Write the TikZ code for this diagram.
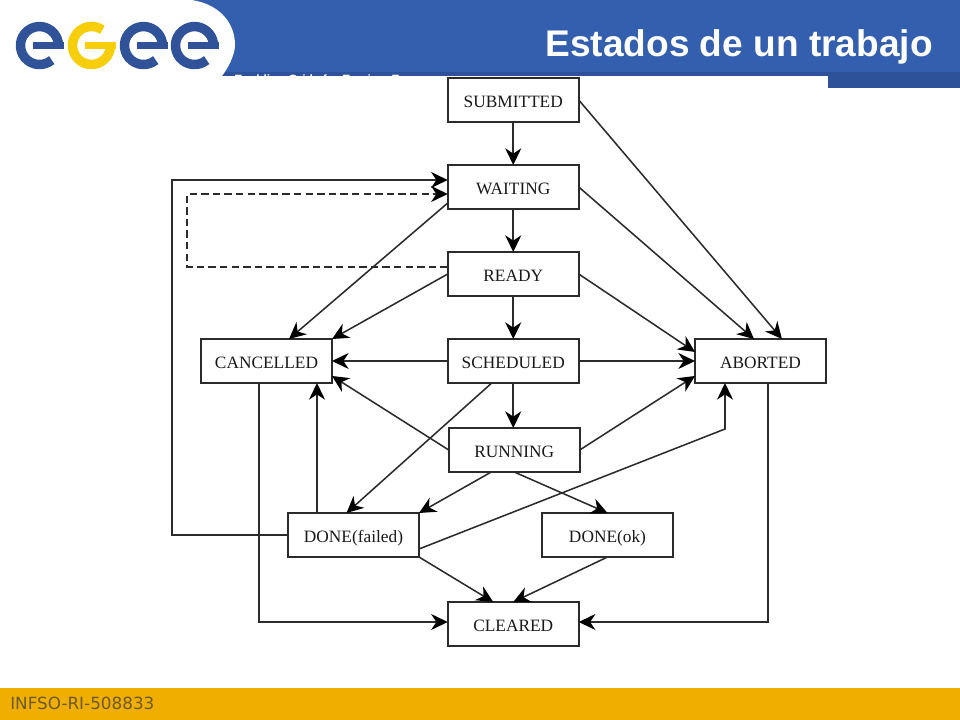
\documentclass[tikz,border=0pt]{standalone}
\usepackage{fontspec}
\setmainfont{Liberation Serif}
\newfontfamily\headfont{Liberation Sans}
\newfontfamily\footfont{DejaVu Sans}
\usetikzlibrary{arrows.meta}
\definecolor{bandblue}{HTML}{335FAE}
\definecolor{banddark}{HTML}{2E5299}
\definecolor{footgold}{HTML}{F0AE00}
\definecolor{foottext}{HTML}{6E5A28}
\definecolor{logoblue}{HTML}{2F5299}
\definecolor{logoyellow}{HTML}{F7CE0A}
\definecolor{inkgray}{HTML}{2B2B2B}
\tikzset{
  statebox/.style={draw=inkgray,line width=1.15pt,fill=white,rectangle,inner sep=0pt,outer sep=0pt,
    minimum width=98.25pt,minimum height=33pt,text=black!90,text height=11pt,text depth=0pt,font=\fontsize{13}{15}\selectfont},
  flow/.style={draw=inkgray,line width=1.15pt,-{Stealth[length=12.5pt,width=12pt,inset=4pt,black]}},
  dashflow/.style={flow,line width=0.9pt,dash pattern=on 5.5pt off 3.2pt},
  logostroke/.style={line width=7.1pt,line cap=butt},
}
\begin{document}
\begin{tikzpicture}[x=0.75pt,y=-0.75pt]
\useasboundingbox (0,0) rectangle (960,720);
\fill[white] (0,0) rectangle (960,720);
% header band
\fill[bandblue] (0,0) rectangle (960,72);
\fill[banddark] (0,72) rectangle (960,76);
\fill[banddark] (828,72) rectangle (960,88);
\begin{scope}
  \clip (234,60) rectangle (420,76.5);
  \node[anchor=base west,inner sep=0pt,text=white,font=\headfont\bfseries\fontsize{9}{11}\selectfont] (strap) at (234,83.5) {Enabling Grids for E-sciencE};
\end{scope}
\fill[white] (0,0) -- (192,0) .. controls (222,5) and (235,25) .. (235,45) .. controls (235,55) and (228,68) .. (222,76) -- (0,76) -- cycle;
% logo
\draw[logoblue,logostroke] (51.7,60.1) arc[start angle=-50,end angle=-360,radius=14.25pt];
\fill[logoblue] (33,42) rectangle (63.5,49);
\draw[logoyellow,logostroke] (102.4,29.9) arc[start angle=55,end angle=360,radius=14.25pt];
\fill[logoyellow] (85,42) rectangle (115.5,49);
\draw[logoblue,logostroke] (155.7,60.1) arc[start angle=-50,end angle=-360,radius=14.25pt];
\fill[logoblue] (137,42) rectangle (167.5,49);
\draw[logoblue,logostroke] (206.7,60.1) arc[start angle=-50,end angle=-360,radius=14.25pt];
\fill[logoblue] (188,42) rectangle (218.5,49);
\node[anchor=base east,inner sep=0pt,text=white,font=\headfont\bfseries\fontsize{27.8}{32}\selectfont] (title) at (933,57) {Estados de un trabajo};
% footer
\fill[footgold] (0,688) rectangle (960,720);
\node[anchor=base west,inner sep=0pt,text=foottext,font=\footfont\fontsize{12.6}{15}\selectfont] (footer) at (10,709) {INFSO-RI-508833};
% states
\node[statebox] (sub) at (513.25,100) {SUBMITTED};
\node[statebox] (wait) at (513.25,187) {WAITING};
\node[statebox] (ready) at (513.25,274) {READY};
\node[statebox] (sched) at (513.25,361) {SCHEDULED};
\node[statebox] (run) at (514.25,450) {RUNNING};
\node[statebox] (canc) at (266.5,361) {CANCELLED};
\node[statebox] (abor) at (760.5,361) {ABORTED};
\node[statebox] (dfail) at (353.5,535) {DONE(failed)};
\node[statebox] (dok) at (607.5,535) {DONE(ok)};
\node[statebox] (clr) at (513.25,624) {CLEARED};
\coordinate (bendA) at (725,429);
\coordinate (loopW) at (172,535);
\coordinate (loopN) at (172,180);
\coordinate (dashS) at (187,267);
\coordinate (dashN) at (187,194);
% connectors
\draw[flow] (sub.south) -- (wait.north);
\draw[flow] (wait.south) -- (ready.north);
\draw[flow] (ready.south) -- (sched.north);
\draw[flow] (sched.south) -- ([shift={(-1,0)}]run.north);
\draw[flow] (sub.east) -- ([shift={(21.5,0)}]abor.north);
\draw[flow] (wait.east) -- ([shift={(-6.5,0)}]abor.north);
\draw[flow] (ready.east) -- ([shift={(0,-9)}]abor.west);
\draw[flow] (sched.east) -- (abor.west);
\draw[flow] (run.east) -- ([shift={(0,15)}]abor.west);
\draw[flow] ([shift={(0,14)}]dfail.east) -- (bendA) -- (bendA |- abor.south);
\draw[flow] ([shift={(0,16)}]wait.west) -- ([shift={(22.5,0)}]canc.north);
\draw[flow] (ready.west) -- (canc.north east);
\draw[flow] (sched.west) -- (canc.east);
\draw[flow] (run.west) -- ([shift={(0,15)}]canc.east);
\draw[flow] ([shift={(-21.5,0)}]sched.south) -- ([shift={(-7,0)}]dfail.north);
\draw[flow] ([shift={(-23,0)}]run.south) -- (dfail.north east);
\draw[flow] (run.south) -- (dok.north);
\draw[flow] ([shift={(-36.5,0)}]dfail.north) -- ([shift={(50.5,0)}]canc.south);
\draw[flow] (dfail.west) -- (loopW) -- (loopN) -- ([shift={(0,-7)}]wait.west);
\draw[dashflow] ([shift={(0,-7)}]ready.west) -- (dashS) -- (dashN) -- ([shift={(0,7)}]wait.west);
\draw[flow] ([shift={(-7.5,0)}]canc.south) |- ([shift={(0,-2)}]clr.west);
\draw[flow] ([shift={(7.5,0)}]abor.south) |- ([shift={(0,-2)}]clr.east);
\draw[flow] (dfail.south east) -- ([shift={(-20,0)}]clr.north);
\draw[flow] (dok.south) -- (clr.north);
\end{tikzpicture}
\end{document}
